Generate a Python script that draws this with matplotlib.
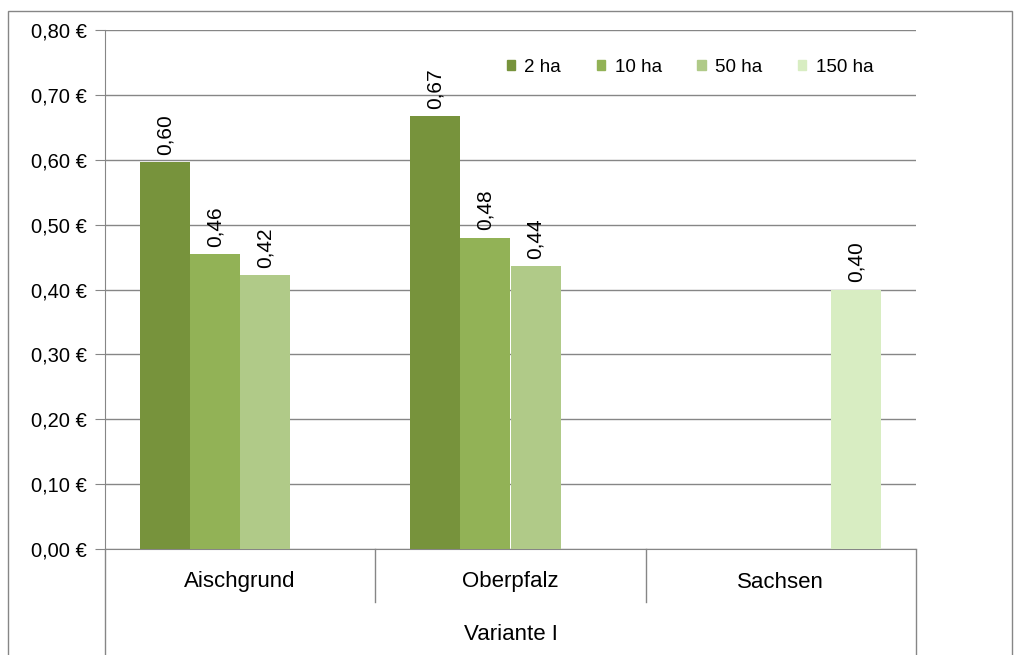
import matplotlib.pyplot as plt
import matplotlib.patches as patches
from matplotlib.lines import Line2D
import numpy as np

plt.rcParams['font.family'] = ['Liberation Sans', 'DejaVu Sans']

regions = ["Aischgrund", "Oberpfalz", "Sachsen"]
sizes = ["2 ha", "10 ha", "50 ha", "150 ha"]
# values per size class, None = no bar
vals_2ha = [0.597, 0.667, None]
vals_10ha = [0.455, 0.480, None]
vals_50ha = [0.422, 0.436, None]
vals_150ha = [None, None, 0.400]
labels_2ha = ["0,60", "0,67", ""]
labels_10ha = ["0,46", "0,48", ""]
labels_50ha = ["0,42", "0,44", ""]
labels_150ha = ["", "", "0,40"]
colors = ["#77933C", "#92B256", "#B0CA88", "#D8EDC2"]
yticks = [0.0, 0.1, 0.2, 0.3, 0.4, 0.5, 0.6, 0.7, 0.8]
group_title = "Variante I"

W, H = 1015, 655
fig = plt.figure(figsize=(W / 100, H / 100), dpi=100)
# plot area in pixels: x 105..916, y 30..549
ax = fig.add_axes([105 / W, 1 - 549 / H, (916 - 105) / W, (549 - 30) / H])

series = [vals_2ha, vals_10ha, vals_50ha, vals_150ha]
labels = [labels_2ha, labels_10ha, labels_50ha, labels_150ha]
bw = 0.185
x = np.arange(len(regions))
for i, (vals, labs) in enumerate(zip(series, labels)):
    pos = x - 1.5 * bw + i * bw
    for p, v, lab in zip(pos, vals, labs):
        if v is None:
            continue
        ax.bar(p, v, width=bw, color=colors[i], zorder=3)
        ax.text(p, v + 0.011, lab, rotation=90, ha='center', va='bottom',
                fontsize=15, color='black', zorder=4)

ax.set_xlim(-0.5, len(regions) - 0.5)
ax.set_ylim(0, 0.8)
ax.set_yticks(yticks)
ax.set_yticklabels([f"{t:.2f}".replace('.', ',') + " €" for t in yticks], fontsize=14.5)
ax.tick_params(axis='y', length=7, color='#868686', pad=6)
ax.yaxis.grid(True, color='#868686', linewidth=1, zorder=0)
ax.set_xticks([])
for s in ['top', 'right']:
    ax.spines[s].set_visible(False)
ax.spines['left'].set_color('#868686')
ax.spines['bottom'].set_color('#868686')

# multi-level category axis
gray = '#868686'
for k in range(len(regions) + 1):
    xx = k / len(regions)
    y0 = -106 / 519 if k in (0, len(regions)) else -53 / 519
    ax.add_line(Line2D([xx, xx], [0, y0], transform=ax.transAxes, color=gray,
                       linewidth=1, clip_on=False))
for k, r in enumerate(regions):
    ax.text((k + 0.5) / len(regions), -33 / 519, r, transform=ax.transAxes,
            ha='center', va='center', fontsize=16)
ax.text(0.5, -85 / 519, group_title, transform=ax.transAxes,
        ha='center', va='center', fontsize=16)

handles = [patches.Patch(color=c) for c in colors]
ax.legend(handles, sizes, ncol=4, frameon=False, fontsize=13.5,
          loc='center', bbox_to_anchor=((690 - 105) / 811, (549 - 67) / 519),
          handlelength=0.45, handleheight=0.45, handletextpad=0.5,
          columnspacing=1.9)

# outer chart frame
fig.patches.append(patches.Rectangle((8 / W, -0.1), (1012 - 8) / W, 1.1 - 11 / H,
                                     transform=fig.transFigure, fill=False,
                                     edgecolor='#868686', linewidth=1))

fig.savefig("out.png", dpi=100)
